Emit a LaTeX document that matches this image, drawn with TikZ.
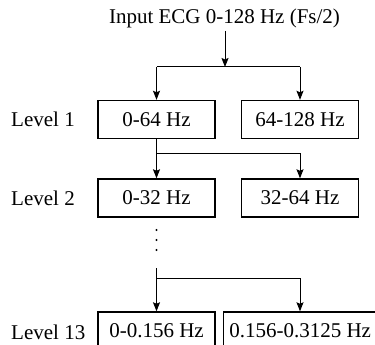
\documentclass[tikz,border=0pt]{standalone}
\usepackage{fontspec}
\setmainfont{Liberation Serif}
\usetikzlibrary{arrows.meta}
\begin{document}
\begin{tikzpicture}[x=1pt,y=-1pt,
  txt/.style={font=\fontsize{21}{23}\selectfont,inner sep=0pt},
  band/.style={txt,draw,line width=1.4pt,minimum width=117pt,minimum height=38pt},
  lvl/.style={txt,anchor=west},
  conn/.style={line width=1pt},
  arr/.style={conn,-{Stealth[length=9pt,width=7pt,inset=1.5pt]}}]
\useasboundingbox (0,0) rectangle (375,345);
\clip (0,0) rectangle (375,345);

% input label
\node[txt] (in) at (224.5,18) {Input ECG 0-128 Hz (Fs/2)};

% level labels
\node[lvl] (l1) at (11,119) {Level 1};
\node[lvl] (l2) at (11,198) {Level 2};
\node[lvl] (l13) at (11,332) {Level 13};

% filter bands
\node[band] (b1) at (156.5,119.5) {0-64 Hz};
\node[band] (b2) at (300,119.5) {64-128 Hz};
\node[band] (c1) at (156.5,198) {0-32 Hz};
\node[band] (c2) at (300,198) {32-64 Hz};
\node[band] (d1) at (156.5,331) {0-0.156 Hz};
\node[band,anchor=west,minimum width=156pt] (d2) at (223,331) {\hspace*{3pt}0.156-0.3125 Hz\hspace*{6pt}};

% split points
\coordinate (s0) at (225,67);
\coordinate (s1) at (156.5,153);
\coordinate (t13) at (156.5,268);
\coordinate (s13) at (156.5,278);

% connectors
\draw[arr] (225,31) -- (s0);
\draw[conn] (b1.north |- s0) -- (b2.north |- s0);
\draw[arr] (b1.north |- s0) -- (b1.north);
\draw[arr] (b2.north |- s0) -- (b2.north);

\draw[conn] (b1.south) -- (s1) -- (c2.north |- s1);
\draw[arr] (s1) -- (c1.north);
\draw[arr] (c2.north |- s1) -- (c2.north);

% elided levels
\foreach \y in {230,240,250} \fill (156.5,\y) circle (1.1pt);

\draw[conn] (t13) -- (s13) -- (c2.north |- s13);
\draw[arr] (s13) -- (d1.north);
\draw[arr] (c2.north |- s13) -- (c2.north |- d2.north);
\end{tikzpicture}
\end{document}
